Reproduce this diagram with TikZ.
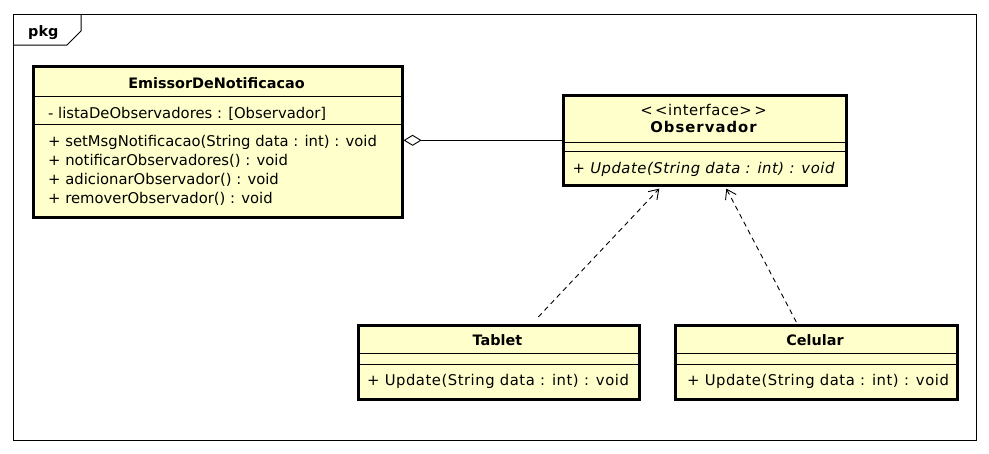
\documentclass[tikz,border=0pt]{standalone}
\usepackage{fontspec}
\setmainfont{DejaVu Sans}
\usetikzlibrary{arrows.meta,calc}
\definecolor{umlfill}{HTML}{FFFFCC}
\begin{document}
\begin{tikzpicture}[x=1pt,y=-1pt,
  clsbox/.style={draw=black,line width=2.6pt,fill=umlfill,anchor=north west,inner sep=0pt},
  sepline/.style={draw=black,line width=0.9pt},
  frameline/.style={draw=black,line width=1pt},
  txt/.style={inner sep=0pt,font=\fontsize{14.8}{17}\selectfont},
  utxt/.style={inner sep=0pt,font=\fontsize{14.8}{17}\selectfont\addfontfeature{LetterSpace=3.6}},
  btxt/.style={inner sep=0pt,font=\fontsize{14.4}{17}\selectfont\bfseries},
  itxt/.style={inner sep=0pt,font=\fontsize{14.8}{17}\selectfont\itshape\addfontfeature{LetterSpace=3.6}},
  realize/.style={draw=black,line width=0.9pt,dash pattern=on 5pt off 4pt,-{Straight Barb[length=9pt,width=12pt]}},
  aggr/.style={draw=black,line width=0.9pt,{Diamond[open,length=18pt,width=11pt,line width=0.9pt]}-}
]
\useasboundingbox (0,0) rectangle (989,453);
% package frame
\draw[frameline] (13,14) rectangle (976,440);
\draw[frameline] (13,45) -- (67,45) -- (81,31) -- (81,14);
\node[btxt,anchor=base west] (pkg) at (28,36.7) {pkg};

% EmissorDeNotificacao
\node[clsbox,minimum width=369pt,minimum height=151pt] (emi) at (32,65) {};
\draw[sepline] (32,96) -- (401,96);
\draw[sepline] (32,124) -- (401,124);
\node[btxt,anchor=base] (emit) at (216.5,88) {EmissorDeNotificacao};
\node[txt,anchor=base west] (emia) at (48,118) {- listaDeObservadores : [Observador]};
\node[txt,anchor=base west] (emim1) at (48,146.5) {+ setMsgNotificacao(String data : int) : void};
\node[txt,anchor=base west] (emim2) at (48,165.5) {+ notificarObservadores() : void};
\node[txt,anchor=base west] (emim3) at (48,184.5) {+ adicionarObservador() : void};
\node[txt,anchor=base west] (emim4) at (48,203.5) {+ removerObservador() : void};

% Observador
\node[clsbox,minimum width=283pt,minimum height=90pt] (obs) at (562,94) {};
\draw[sepline] (562,142) -- (845,142);
\draw[sepline] (562,151) -- (845,151);
\node[txt,font=\fontsize{14.8}{17}\selectfont\addfontfeature{LetterSpace=4},anchor=base] (obss) at (703.5,115.7) {{<}\,{<}interface{>}\,{>}};
\node[btxt,font=\fontsize{14.8}{17}\selectfont\bfseries\addfontfeature{LetterSpace=7},anchor=base] (obst) at (703.5,132.7) {Observador};
\node[itxt,anchor=base] (obsm) at (703.5,173) {+ Update(String data : int) : void};

% Tablet
\node[clsbox,minimum width=281pt,minimum height=74pt] (tab) at (357,324) {};
\draw[sepline] (357,353) -- (638,353);
\draw[sepline] (357,364) -- (638,364);
\node[btxt,anchor=base] (tabt) at (497.5,345.7) {Tablet};
\node[utxt,anchor=base] (tabm) at (498,385) {+ Update(String data : int) : void};

% Celular
\node[clsbox,minimum width=282pt,minimum height=74pt] (cel) at (674,324) {};
\draw[sepline] (674,353) -- (956,353);
\draw[sepline] (674,364) -- (956,364);
\node[btxt,anchor=base] (celt) at (815,345.7) {Celular};
\node[utxt,anchor=base] (celm) at (818,385) {+ Update(String data : int) : void};

% connectors
\draw[aggr] (emi.east |- obs.west) -- (obs.west);
\draw[realize] ([xshift=39.5pt,yshift=7pt]tab.north) -- ([xshift=-45.5pt,yshift=-2pt]obs.south);
\draw[realize] ([xshift=-20pt,yshift=2pt]cel.north) -- ([xshift=21.5pt,yshift=-2pt]obs.south);
\end{tikzpicture}
\end{document}
